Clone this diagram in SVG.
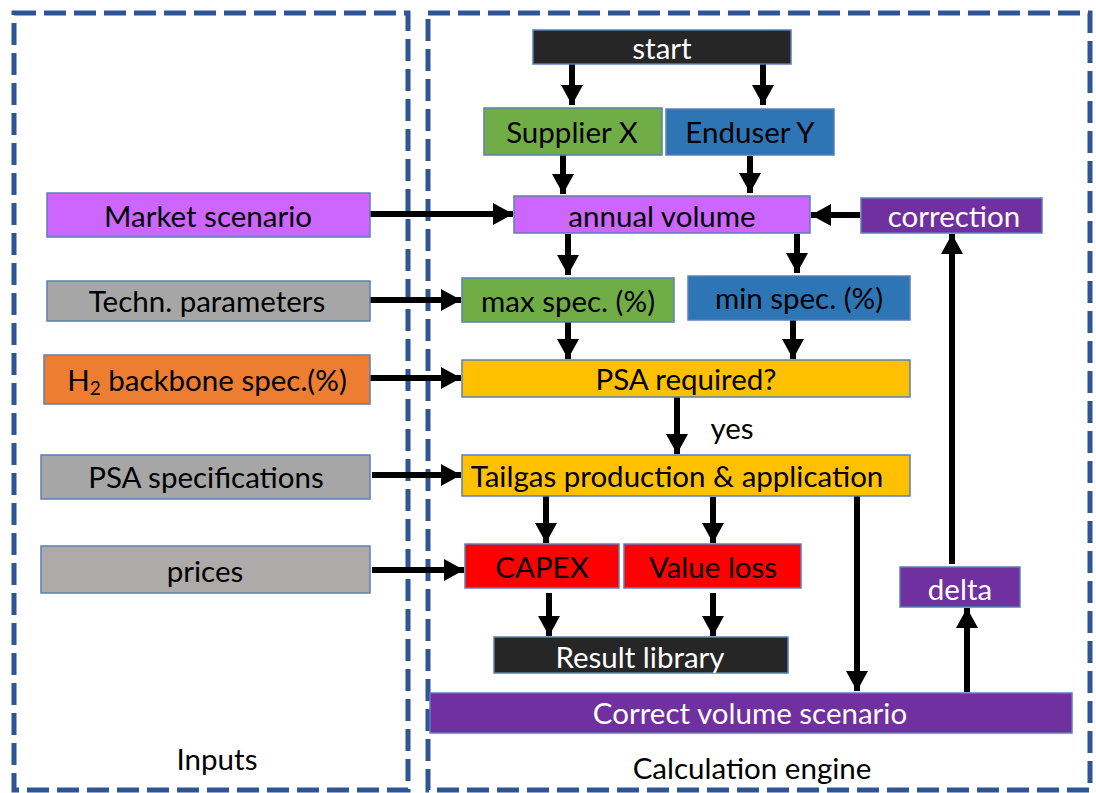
<svg xmlns="http://www.w3.org/2000/svg" width="1096" height="793" viewBox="0 0 1096 793">
<style>
.frame{fill:none;stroke:#2F5597;stroke-width:5;stroke-dasharray:22 8}
.box{stroke:#5B7FB5;stroke-width:1.5}
.t{font-family:Lato,"Liberation Sans",sans-serif;font-size:29.5px;text-anchor:middle;dominant-baseline:central;fill:#000}
.w{fill:#fff}
.c{stroke:#000;stroke-width:6;fill:none;marker-end:url(#ah)}
</style>
<defs>
<marker id="ah" markerUnits="userSpaceOnUse" markerWidth="22" markerHeight="22" refX="20" refY="11" orient="auto">
<path d="M0,0 L20,11 L0,22 Z" fill="#000"/>
</marker>
</defs>
<rect width="1096" height="793" fill="#fff"/>
<g id="inputs-frame">
<rect class="frame" x="14" y="13" width="394" height="777"/>
<text class="t" x="217" y="758">Inputs</text>
</g>
<g id="engine-frame">
<rect class="frame" x="428" y="13" width="662" height="777"/>
<text class="t" x="752" y="767">Calculation engine</text>
</g>
<g id="connectors">
<line class="c" x1="572" y1="64" x2="572" y2="105"/>
<line class="c" x1="763" y1="64" x2="763" y2="105"/>
<line class="c" x1="563" y1="155" x2="563" y2="194"/>
<line class="c" x1="750" y1="156" x2="750" y2="193"/>
<line class="c" x1="370" y1="214" x2="513" y2="214"/>
<line class="c" x1="860" y1="215" x2="811" y2="215"/>
<line class="c" x1="568" y1="234" x2="568" y2="275"/>
<line class="c" x1="797" y1="234" x2="797" y2="273"/>
<line class="c" x1="370" y1="300" x2="461" y2="300"/>
<line class="c" x1="568" y1="322" x2="568" y2="359"/>
<line class="c" x1="793" y1="320" x2="793" y2="359"/>
<line class="c" x1="370" y1="378" x2="461" y2="378"/>
<line class="c" x1="677" y1="397" x2="677" y2="454"/>
<line class="c" x1="372" y1="475" x2="461" y2="475"/>
<line class="c" x1="546" y1="496" x2="546" y2="543"/>
<line class="c" x1="713" y1="497" x2="713" y2="543"/>
<line class="c" x1="857" y1="496" x2="857" y2="691"/>
<line class="c" x1="372" y1="570" x2="464" y2="570"/>
<line class="c" x1="549" y1="593" x2="549" y2="636"/>
<line class="c" x1="713" y1="593" x2="713" y2="636"/>
<line class="c" x1="967" y1="692" x2="967" y2="608"/>
<line class="c" x1="952" y1="564" x2="952" y2="234"/>
</g>
<g id="start"><rect class="box" x="533" y="30" width="258" height="34" fill="#262626"/><text class="t w" x="662" y="47">start</text></g>
<g id="supplier"><rect class="box" x="484" y="108" width="178" height="47" fill="#70AD47"/><text class="t" x="572" y="131">Supplier X</text></g>
<g id="enduser"><rect class="box" x="666" y="109" width="168" height="46" fill="#2E75B6"/><text class="t" x="750" y="131">Enduser Y</text></g>
<g id="annual"><rect class="box" x="514" y="196" width="296" height="37" fill="#CC66FF"/><text class="t" x="662" y="215">annual volume</text></g>
<g id="correction"><rect class="box" x="861" y="198" width="181" height="35" fill="#7030A0"/><text class="t w" x="954" y="215">correction</text></g>
<g id="market"><rect class="box" x="47" y="193" width="323" height="44" fill="#CC66FF"/><text class="t" x="208" y="215">Market scenario</text></g>
<g id="techn"><rect class="box" x="47" y="281" width="323" height="40" fill="#A6A6A6"/><text class="t" x="207" y="300">Techn. parameters</text></g>
<g id="maxspec"><rect class="box" x="462" y="278" width="212" height="44" fill="#70AD47"/><text class="t" x="568" y="300">max spec. (%)</text></g>
<g id="minspec"><rect class="box" x="688" y="276" width="222" height="44" fill="#2E75B6"/><text class="t" x="799" y="297">min spec. (%)</text></g>
<g id="h2"><rect class="box" x="44" y="355" width="326" height="49" fill="#ED7D31"/><text class="t" x="207" y="379">H<tspan font-size="19" dy="8">2</tspan><tspan dy="-8"> backbone spec.(%)</tspan></text></g>
<g id="psa"><rect class="box" x="462" y="360" width="448" height="37" fill="#FFC000"/><text class="t" x="686" y="378">PSA required?</text></g>
<text class="t" x="732" y="427">yes</text>
<g id="psaspec"><rect class="box" x="41" y="455" width="329" height="44" fill="#A6A6A6"/><text class="t" x="206" y="476">PSA specifications</text></g>
<g id="tailgas"><rect class="box" x="462" y="455" width="448" height="41" fill="#FFC000"/><text class="t" x="677" y="475">Tailgas production &amp; application</text></g>
<g id="prices"><rect class="box" x="41" y="546" width="329" height="47" fill="#AEAAAA"/><text class="t" x="205" y="570">prices</text></g>
<g id="capex"><rect class="box" x="465" y="544" width="154" height="44" fill="#FF0000"/><text class="t" x="542" y="566">CAPEX</text></g>
<g id="valueloss"><rect class="box" x="624" y="544" width="177" height="44" fill="#FF0000"/><text class="t" x="713" y="566">Value loss</text></g>
<g id="result"><rect class="box" x="494" y="637" width="294" height="36" fill="#262626"/><text class="t w" x="640" y="656">Result library</text></g>
<g id="delta"><rect class="box" x="900" y="567" width="120" height="40" fill="#7030A0"/><text class="t w" x="960" y="588">delta</text></g>
<g id="correctvol"><rect class="box" x="430" y="693" width="642" height="40" fill="#7030A0"/><text class="t w" x="750" y="712">Correct volume scenario</text></g>
</svg>
